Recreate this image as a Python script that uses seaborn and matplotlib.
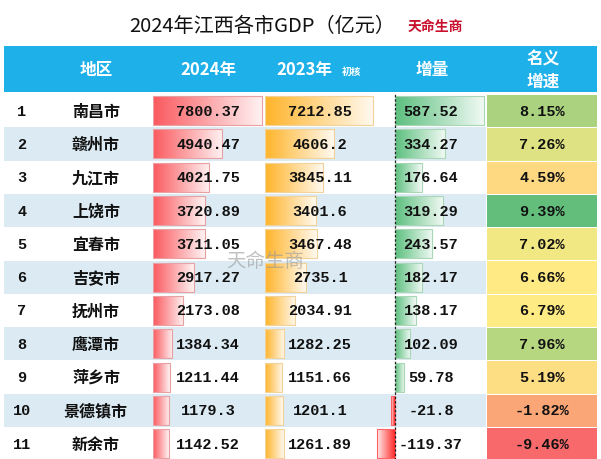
import numpy as np
import matplotlib
matplotlib.use("Agg")
import matplotlib.pyplot as plt
import seaborn as sns
from matplotlib.colors import LinearSegmentedColormap, to_rgb
from matplotlib.patches import Rectangle

regions = ["南昌市", "赣州市", "九江市", "上饶市", "宜春市", "吉安市",
           "抚州市", "鹰潭市", "萍乡市", "景德镇市", "新余市"]
gdp_2024 = [7800.37, 4940.47, 4021.75, 3720.89, 3711.05, 2917.27,
            2173.08, 1384.34, 1211.44, 1179.3, 1142.52]
gdp_2023 = [7212.85, 4606.2, 3845.11, 3401.6, 3467.48, 2735.1,
            2034.91, 1282.25, 1151.66, 1201.1, 1261.89]
increase = [587.52, 334.27, 176.64, 319.29, 243.57, 182.17,
            138.17, 102.09, 59.78, -21.8, -119.37]
growth = [8.15, 7.26, 4.59, 9.39, 7.02, 6.66, 6.79, 7.96, 5.19, -1.82, -9.46]

sns.set_theme(style="white")
plt.rcParams["font.family"] = ["Noto Sans CJK SC", "DejaVu Sans"]

W, H = 601, 460
fig = plt.figure(figsize=(W / 100, H / 100), dpi=100)

ROW_TOP = 95
ROW_H = 33.3
N = len(regions)


def px_axes(x, y, w, h):
    # axes placed by pixel box (top-left origin)
    ax = fig.add_axes([x / W, 1 - (y + h) / H, w / W, h / H])
    ax.set_facecolor("none")
    ax.set_axis_off()
    return ax


# background: header band and row stripes
bg = px_axes(0, 0, W, H)
bg.set_xlim(0, W)
bg.set_ylim(H, 0)
bg.add_patch(Rectangle((4, 47), 593, 46, color="#1db0e9", lw=0))
for i in range(N):
    if i % 2 == 1:
        bg.add_patch(Rectangle((4, ROW_TOP + ROW_H * i), 593, ROW_H,
                               color="#dcebf3", lw=0))


def mix_white(c, t):
    r, g, b = to_rgb(c)
    return (r + (1 - r) * t, g + (1 - g) * t, b + (1 - b) * t)


def gradient_bars(ax, color, edge, neg_color=None):
    for p in ax.patches:
        x0, w = p.get_x(), p.get_width()
        y0, h = p.get_y(), p.get_height()
        c = neg_color if (w < 0 and neg_color) else color
        cm = LinearSegmentedColormap.from_list("g", [c, mix_white(c, 0.92)])
        grad = np.linspace(0, 1, 128).reshape(1, -1)
        if w < 0:
            grad = grad[:, ::-1]
        left, right = min(x0, x0 + w), max(x0, x0 + w)
        ax.imshow(grad, extent=[left, right, y0 + h, y0], aspect="auto",
                  cmap=cm, zorder=1, interpolation="bilinear")
        p.set_facecolor("none")
        p.set_edgecolor(mix_white(c, 0.3) if w < 0 else edge)
        p.set_linewidth(0.8)
        p.set_zorder(2)


def bar_column(x, w, values, xlim, color, edge, neg_color=None):
    ax = px_axes(x, ROW_TOP, w, ROW_H * N)
    sns.barplot(x=values, y=regions, orient="h", color=color, width=0.87,
                ax=ax, saturation=1)
    gradient_bars(ax, color, edge, neg_color)
    ax.set_xlim(*xlim)
    ax.set_ylim(N - 0.5, -0.5)
    ax.set_axis_off()
    return ax


bar_column(153, 112, gdp_2024, (0, 7800.37 * 112 / 109), "#fa5a5f", "#e9a0a2")
bar_column(265, 112, gdp_2023, (0, 7212.85 * 112 / 108), "#ffb42a", "#f0d29a")
ax_inc = bar_column(374, 112, increase, (-136, 601), "#5cbf7e", "#a9d6b6",
                    neg_color="#ff2020")
ax_inc.axvline(0, color="#222222", lw=0.9, ls=(0, (2, 1.5)), zorder=3)

# growth column as a heatmap with Excel style 3-colour scale
gmin, gmax, gmed = min(growth), max(growth), float(np.median(growth))
pos = (gmed - gmin) / (gmax - gmin)
scale = LinearSegmentedColormap.from_list(
    "rg", [(0, "#f8696b"), (pos, "#ffeb84"), (1, "#63be7b")])
ax_g = px_axes(486, ROW_TOP, 111, ROW_H * N)
sns.heatmap(np.array(growth).reshape(-1, 1), ax=ax_g, cmap=scale,
            vmin=gmin, vmax=gmax, cbar=False, linewidths=0.5,
            linecolor="white", xticklabels=False, yticklabels=False)
ax_g.set_axis_off()

# text overlay
tx = px_axes(0, 0, W, H)
tx.set_xlim(0, W)
tx.set_ylim(H, 0)

tx.text(262, 27, "2024年江西各市GDP（亿元）", ha="center", va="center",
        fontsize=14.5, color="#111111")
tx.text(435, 27, "天命生商", ha="center", va="center", fontsize=10,
        color="#c8102e", fontweight="bold")

hdr = dict(ha="center", va="center", color="white", fontsize=12,
           fontweight="bold")
tx.text(96, 70, "地区", **hdr)
tx.text(208, 70, "2024年", **hdr)
tx.text(304, 70, "2023年", **hdr)
tx.text(352, 72, "初核", ha="center", va="center", color="white",
        fontsize=7, fontweight="bold")
tx.text(432, 70, "增量", **hdr)
tx.text(543, 59, "名义", **hdr)
tx.text(543, 82, "增速", **hdr)

num = dict(ha="center", va="center", fontsize=11, color="#111111",
           family=["Liberation Mono", "DejaVu Sans Mono"], fontweight="bold")
for i in range(N):
    yc = ROW_TOP + ROW_H * (i + 0.5)
    tx.text(22, yc, str(i + 1), **num)
    tx.text(96, yc, regions[i], ha="center", va="center", fontsize=11.5,
            color="#111111", fontweight="bold")
    tx.text(208, yc, str(gdp_2024[i]), **num)
    tx.text(320, yc, str(gdp_2023[i]), **num)
    tx.text(431, yc, str(increase[i]), **num)
    tx.text(542, yc, f"{growth[i]:.2f}%", **num)

# watermark
tx.text(265, 262, "天命生商", ha="center", va="center", fontsize=14,
        color="#9a9a9a", alpha=0.6)

fig.savefig("out.png", dpi=100)
